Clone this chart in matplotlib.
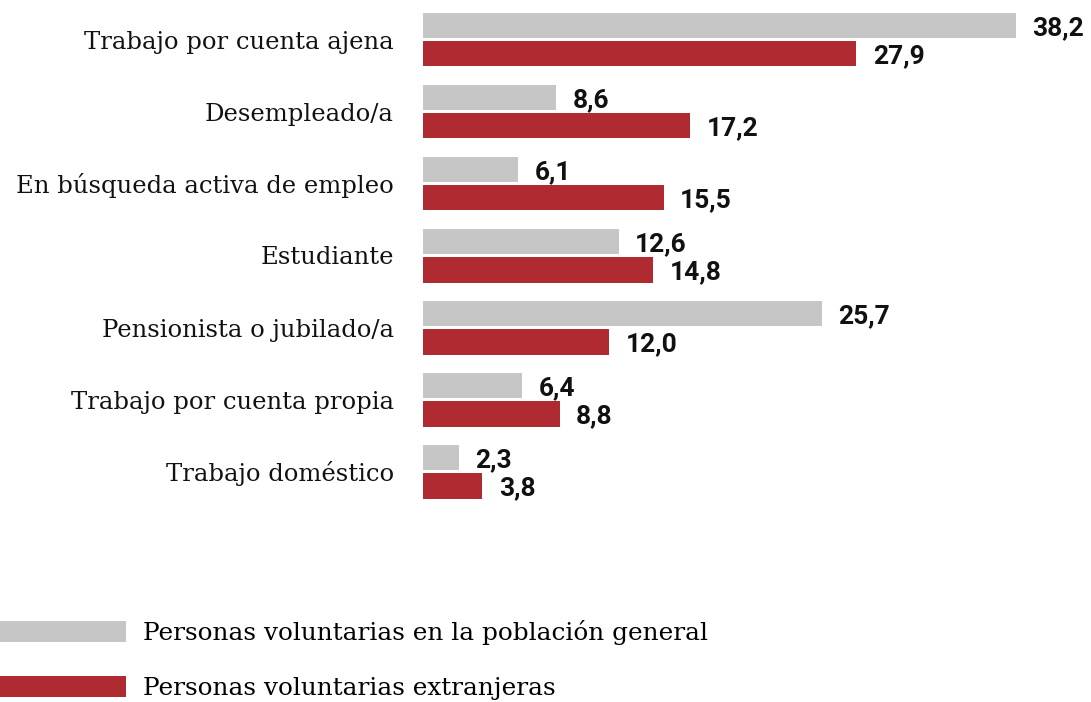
import matplotlib
matplotlib.use("Agg")
import matplotlib.pyplot as plt
import numpy as np

# ---------------------------------------------------------------------------
# Data
# ---------------------------------------------------------------------------
categories = [
    "Trabajo por cuenta ajena",
    "Desempleado/a",
    "En búsqueda activa de empleo",
    "Estudiante",
    "Pensionista o jubilado/a",
    "Trabajo por cuenta propia",
    "Trabajo doméstico",
]
general = [38.2, 8.6, 6.1, 12.6, 25.7, 6.4, 2.3]
extranjeras = [27.9, 17.2, 15.5, 14.8, 12.0, 8.8, 3.8]

series_labels = [
    "Personas voluntarias en la población general",
    "Personas voluntarias extranjeras",
]
GREY = "#c6c6c6"
RED = "#b02a32"

# ---------------------------------------------------------------------------
# Figure
# ---------------------------------------------------------------------------
W, H = 1091, 702
fig = plt.figure(figsize=(W / 100, H / 100), dpi=100)
ax = fig.add_axes([423 / W, 1 - 520 / H, 668 / W, 520 / H])

y = np.arange(len(categories))
off = 0.2
h = 0.35
b1 = ax.barh(y - off, general, height=h, color=GREY, label=series_labels[0])
b2 = ax.barh(y + off, extranjeras, height=h, color=RED, label=series_labels[1])

val_font = dict(family="Roboto", weight="bold", fontsize=19, color="#111111")
for bars, vals in ((b1, general), (b2, extranjeras)):
    for rect, v in zip(bars, vals):
        ax.annotate(f"{v:.1f}".replace(".", ","),
                    xy=(rect.get_width(), rect.get_y() + rect.get_height() / 2),
                    xytext=(12, -2), textcoords="offset points",
                    va="center", ha="left", annotation_clip=False, **val_font)

ax.set_xlim(0, 668 / 15.52)
ax.set_ylim((520 - 39.5) / 72, -39.5 / 72)
ax.set_yticks(y)
ax.set_yticklabels(categories, family="DejaVu Serif", fontsize=17.5, color="#111111")
ax.tick_params(axis="y", length=0, pad=21)
ax.set_xticks([])
for s in ax.spines.values():
    s.set_visible(False)

fig.legend(handles=[b1, b2], labels=series_labels,
           loc="upper left", bbox_to_anchor=(0, 1 - 620 / H),
           frameon=False, borderpad=0, borderaxespad=0,
           handlelength=5.1, handleheight=0.93, handletextpad=0.69,
           labelspacing=1.25,
           prop=dict(family="DejaVu Serif", size=17.8))

fig.savefig("out.png", dpi=100)
